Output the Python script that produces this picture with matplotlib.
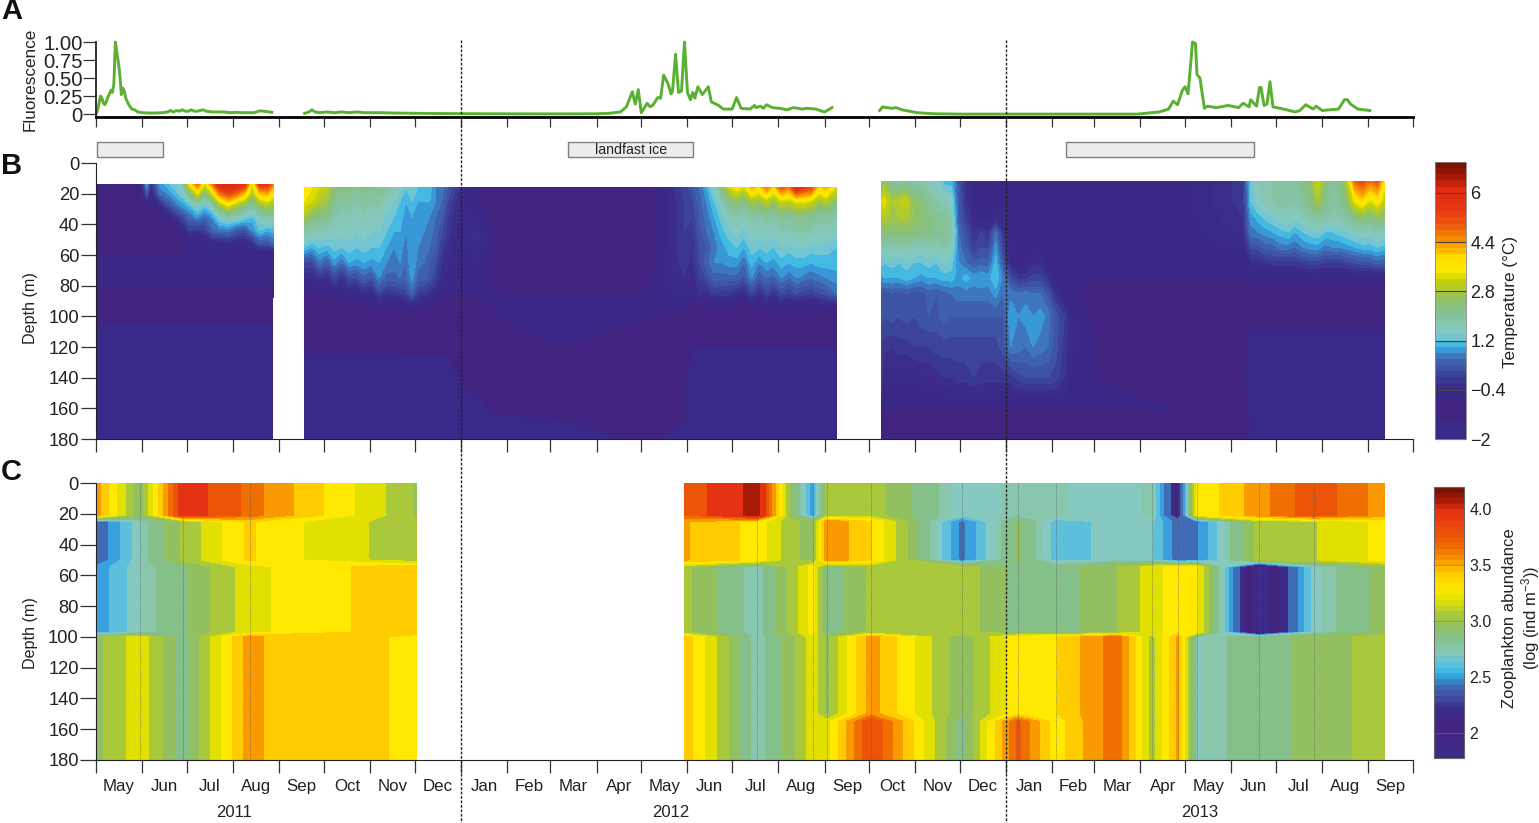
import numpy as np
import pandas as pd
import matplotlib
matplotlib.use("Agg")
import matplotlib.pyplot as plt
from matplotlib.cm import ScalarMappable
from matplotlib.colors import LinearSegmentedColormap, BoundaryNorm, ListedColormap, Normalize

plt.rcParams['font.family'] = ['Liberation Sans', 'DejaVu Sans']
plt.rcParams['mathtext.default'] = 'regular'

# ---- calendar
START = pd.Timestamp('2011-05-01')
month_starts = pd.date_range('2011-05-01', '2013-10-01', freq='MS')
month_days = np.array([(d - START).days for d in month_starts])
month_labels = [d.strftime('%b') for d in month_starts[:-1]]
year_labels = ['2011', '2012', '2013']
year_days = [92.6, 386, 741]
winter_lines = [245, 611]

# ---- panel A: fluorescence (day since 1 May 2011, value)
fl1_d = [0,1,2,3,4,5,6,7,8,9,10,11,12,13,14,15,16,17,18,19,20,22,24,26,28,31,35,40,45,48,50,52,54,56,58,60,62,64,66,68,70,72,74,78,82,86,90,94,98,102,106,110,113,116,118]
fl1_v = [0,.05,.15,.25,.22,.15,.13,.18,.24,.28,.33,.3,.42,1.0,.85,.72,.55,.27,.36,.32,.22,.13,.07,.06,.03,.02,.015,.015,.02,.03,.05,.03,.05,.04,.06,.04,.04,.06,.04,.04,.05,.06,.04,.03,.03,.03,.02,.025,.02,.02,.02,.045,.04,.03,.025]
fl2_d = [140,143,145,147,150,155,160,165,170,175,180,190,200,220,250,300,336,345,352,356,360,362,364,366,370,372,374,377,379,381,384,386,387,389,391,393,395,397,399,400.6,402,404,407,411,413,418,421,427,430,433,439,442,443,446,448,450,454,459,464,468,474,477,483,489,494]
fl2_v = [.01,.03,.06,.03,.02,.03,.02,.03,.02,.03,.02,.02,.015,.01,.005,.003,.004,.012,.03,.1,.31,.14,.34,.02,.15,.1,.13,.23,.22,.54,.42,.28,.32,.83,.3,.32,1.0,.3,.2,.3,.22,.38,.27,.38,.17,.12,.07,.07,.23,.08,.07,.12,.09,.11,.08,.13,.09,.08,.06,.09,.07,.08,.07,.03,.09]
fl3_d = [526,528,531,534,537,541,551,562,580,620,660,699,713.6,720,723,726,729,731,733,735,736,738,739,741,744,746,752,760,767,770,774,775,779,781,782,784,786,788,790,795,805,808,812,817,819,823,834,838,840,842,847,855]
fl3_v = [.05,.1,.09,.08,.09,.06,.02,.005,0,0,0,0,.03,.07,.18,.13,.32,.38,.28,.75,1.0,.98,.55,.5,.08,.11,.09,.12,.09,.15,.1,.2,.11,.37,.37,.12,.14,.45,.1,.08,.03,.05,.13,.07,.11,.05,.07,.2,.2,.14,.07,.05]
ice_start = [0.7, 317, 651]
ice_end = [45, 401, 777]
ice_labels = ['', 'landfast ice', '']

# ---- panel B: temperature, segment 2011
t1_days = [0,16,30,34,37,43,50,57,63,68,73,78,83,89,94,100,105,110,115,119]
t1_depth = [14,20,28,36,44,52,60,80,100,120,140,160,180]
t1_14 = [-.9,-.9,-.8,1.0,-.3,.9,1.2,1.5,3.5,4.8,3.2,4.5,6.0,6.2,6.0,5.5,3.2,5.5,5.5,4.5]
t1_20 = [-1,-1,-.9,.3,-.5,.6,.9,1.3,2.2,3.3,2.2,3.2,4.6,5.2,4.8,4.0,2.8,4.0,4.2,3.6]
t1_28 = [-1,-1,-1,-.8,-.8,-.4,.3,.8,1.1,1.5,1.2,1.6,2.6,3.3,2.7,2.3,1.9,2.5,2.8,2.6]
t1_36 = [-1,-1,-1,-1,-1,-.9,-.6,0,.5,.8,.5,.8,1.4,1.6,1.5,1.3,1.1,1.5,1.8,1.7]
t1_44 = [-1,-1,-1,-1,-1,-1,-.9,-.8,0,-.2,0,.5,.7,.7,.4,.3,.8,1.2,1.0,1.1]
t1_52 = [-.9,-.9,-.9,-.9,-.9,-.9,-.9,-.9,-.7,-.7,-.7,-.5,-.4,-.3,-.5,-.5,-.2,.4,.3,.6]
t1_60 = [-.8]*20
t1_80 = [-.8]*20
t1_100 = [-1.3]*20
t1_120 = [-1.7]*20
t1_140 = [-1.8]*20
t1_160 = [-1.8]*20
t1_180 = [-1.8]*20

# ---- panel B: temperature, segment 2011-12
t2_days = [140,145,150,155,160,165,170,175,180,185,190,195,200,204,208,212,216,220,224,228,232,236,245,256,270,310,370,395,
           400,405,410,415,420,425,430,435,440,445,450,455,460,465,470,475,480,485,490,497]
t2_depth = [16,25,35,45,55,65,75,85,100,120,140,160,180]
t2_16 = [3.6,3.4,3.2,3.0,2.4,2.2,2.4,2.0,2.3,2.0,2.2,1.9,1.7, 1.5,1.2,1.4,1.2,1.0,1.1,.8,.7,.4, -.2,-1,-1,-1,-1,.1,
         .3,.6,1.0,1.5,2.2,3.2,3.6,3.2,4.2,3.8,4.6,3.8,5,4.5,6,5.4,5.2,3.8,4.2,3.2]
t2_25 = [3.4,3.2,2.9,2.7,2.1,1.9,2.0,1.8,2.0,1.8,1.9,1.6,1.4, 1.2,1.0,1.2,1.0,1.0,1.0,.8,.6,.2, -.5,-.8,-1,-1,-1,0,
         .1,.5,.8,1.2,1.6,2.2,2.5,2.2,2.8,2.6,3.0,2.6,3.2,3.0,3.4,3.4,3.2,2.7,2.9,2.4]
t2_35 = [2.8,2.4,2.2,2.2,1.8,1.7,1.7,1.6,1.7,1.6,1.6,1.3,1.2, 1.1,.9,1.0,.9,.9,.8,.6,.4,0, -.6,-.6,-1,-1,-1,0,
         0,.4,.7,1.0,1.3,1.6,1.8,1.6,1.9,1.8,2.0,1.8,2.1,2.0,2.2,2.2,2.1,1.9,2.0,1.8]
t2_45 = [1.8,1.7,1.6,1.6,1.5,1.5,1.5,1.4,1.5,1.4,1.4,1.2,1.0, 1.0,.8,1.0,.9,.8,.7,.5,.2,-.1, -.6,-.3,-1,-1,-1,0,
         -.1,.3,.6,.8,1.1,1.3,1.5,1.3,1.6,1.5,1.6,1.5,1.7,1.6,1.8,1.8,1.7,1.6,1.6,1.5]
t2_55 = [1.2,1.0,1.2,1.1,1.3,1.2,1.3,1.2,1.3,1.2,1.2,1.0,.8, .9,.7,1.0,.8,.7,.6,.4,0,-.3, -.7,-.3,-1,-1,-1,0,
         -.2,.2,.4,.7,.9,1.1,1.2,1.0,1.3,1.2,1.3,1.2,1.4,1.3,1.4,1.4,1.3,1.3,1.3,1.2]
t2_65 = [.2,.1,.7,.4,.9,.6,1.0,.9,1.0,.9,1.0,.8,.7, .8,.6,1.0,.7,.6,.4,.2,-.2,-.4, -.8,-.5,-1,-1,-1,-.1,
         -.3,.2,.5,.8,.8,.9,.9,.6,1.1,.8,1.0,.9,1.1,1.0,1.1,1.1,1.0,1.1,1.1,1.1]
t2_75 = [-.4,-.4,-.2,-.3,.1,-.2,.2,.2,.5,.3,.8,.5,.5, .6,.5,.9,.5,.5,.3,0,-.3,-.5, -.8,-.7,-.9,-.9,-.9,-.2,
         -.5,0,.2,.5,.5,.5,.5,.3,.8,.4,.6,.5,.8,.6,.8,.7,.6,.7,.8,.9]
t2_85 = [-1,-.9,-.8,-.8,-.6,-.7,-.5,-.5,-.3,-.4,.1,-.2,-.1, 0,.1,.5,0,-.1,-.2,-.4,-.6,-.7, -.8,-.8,-.8,-.8,-.8,-.4,
         -.6,-.2,-.3,0,-.1,-.1,-.2,-.4,.1,-.3,.1,-.2,.2,0,.2,.1,0,.2,.3,.6]
t2_100 = [-1.3]*22 + [-1.2,-1.0,-.8,-.8,-.8,-.9] + [-1.3]*20
t2_120 = [-1.3]*22 + [-1.3,-1.3,-.9,-.8,-.9,-1.2] + [-1.4]*20
t2_140 = [-1.8]*13 + [-1.7]*9 + [-1.3,-1.3,-1.2,-.9,-.9,-1.3] + [-1.8]*20
t2_160 = [-1.8]*22 + [-1.7,-1.5,-1.3,-1.3,-1.1,-1.3] + [-1.8]*20
t2_180 = [-1.8]*22 + [-1.8,-1.8,-1.8,-1.6,-1.3,-1.6] + [-1.9]*20

# ---- panel B: temperature, segment 2012-13
t3_days = [527,529,534,539,544,549,554,559,564,569,574,579,584,589,594,599,604,609,614,619,624,629,634,639,644,650,656,670,720,770,
           775,780,785,790,795,800,805,810,815,820,825,830,835,840,845,850,855,860,865]
t3_depth = [12,25,35,45,55,65,75,85,100,120,140,160,180]
t3_12 = [2.0,2.6,2.0,1.8,2.0,1.7,1.9,1.6,1.5,1.1,1.1,.3,-.3,-.6,-.7,-.7,-.8,-.8,-.8,-.8,-.8,-.8,-.8,-.8,-.8,-.8,-.8,-.8,-.8,-.1,
         1.3,1.6,1.7,1.8,2.0,2.0,1.9,2.1,2.4,3.2,2.4,2.0,2.2,2.9,4.8,5.2,4.6,5.0,3.6]
t3_25 = [3.2,3.4,2.8,3.0,3.1,2.5,2.3,2.0,1.8,1.7,1.5,.4,-.2,-.6,-.7,-.7,-.7,-.7,-.7,-.8,-.8,-.8,-.8,-.8,-.8,-.8,-.8,-.8,-.8,-.1,
         1.2,1.5,1.7,1.8,1.9,1.9,1.8,2.0,2.3,2.8,2.2,1.9,2.0,2.5,3.4,3.8,3.2,3.6,3.0]
t3_35 = [2.7,3.0,2.7,2.8,2.9,2.6,2.4,2.3,2.1,2.0,1.7,.4,0,-.4,-.6,-.5,-.5,-.3,-.6,-.8,-.8,-.8,-.8,-.8,-.8,-.8,-.8,-.8,-.8,-.2,
         .9,1.1,1.3,1.4,1.6,1.6,1.5,1.7,1.9,2.0,1.9,1.7,1.8,2.0,2.3,2.5,2.3,2.6,2.4]
t3_45 = [2.2,2.4,2.4,2.4,2.4,2.3,2.3,2.2,2.1,2.1,1.9,.6,.2,-.2,0,-.2,.6,-.2,-.6,-.8,-.8,-.8,-.8,-.8,-.8,-.8,-.8,-.8,-.8,-.3,
         .7,.8,.9,1.0,1.1,1.2,1.0,1.2,1.3,1.4,1.2,1.2,1.3,1.4,1.5,1.6,1.5,1.7,1.6]
t3_55 = [1.6,1.7,1.7,1.7,1.8,1.7,1.6,1.7,1.6,1.8,1.6,.7,.4,0,.2,.1,.9,0,-.5,-.7,-.7,-.6,-.7,-.8,-.8,-.8,-.8,-.8,-.8,-.5,
         .2,.3,.5,.5,.7,.7,.6,.8,.9,.9,.7,.8,.8,.9,1.0,1.1,1.1,1.2,1.1]
t3_65 = [1.3,1.2,1.3,1.2,1.3,1.2,1.2,1.3,1.2,1.4,1.3,.8,.6,.4,.5,.5,1.1,.3,-.4,-.6,-.6,-.3,-.3,-.7,-.8,-.8,-.8,-.8,-.8,-.7,
         -.3,-.3,-.2,-.1,-.1,-.1,-.1,0,.1,.1,0,0,0,.1,.2,.3,.3,.5,.4]
t3_75 = [.9,1.0,1.0,1.0,1.1,1.0,.9,1.0,1.0,1.1,1.1,.9,1.1,.9,1.0,.9,1.2,.7,.2,-.1,-.1,.1,.1,-.2,-.6,-.7,-.8,-.8,-.8,-.8] + [-.7]*19
t3_85 = [.4,.3,.4,.3,.4,.3,.3,.5,.4,.5,.6,.7,.7,.7,.7,.7,.9,.6,.7,.6,.7,.6,.6,.3,-.2,-.6,-.8,-.9,-.9,-.9] + [-1.0]*19
t3_100 = [.3,.2,.3,.2,.3,.2,.3,.4,.3,.5,.4,.4,.4,.4,.4,.4,.4,.4,1.0,.8,.9,.8,.9,.7,.3,0,-.5,-.9,-1.2,-1.2] + [-1.2]*19
t3_120 = [0,-.1,-.2,-.1,-.1,0,0,0,.1,.1,.1,.1,.1,.1,.1,.1,.1,.3,.8,.7,.6,.8,.7,.6,.3,-.1,-.5,-.8,-1.2,-1.2] + [-1.7]*19
t3_140 = [.1,-.5,-.5,-.5,-.5,-.5,-.4,-.4,-.3,-.2,-.2,-.1,-.1,0,-.1,-.1,-.1,-.1,-.1,.1,.2,.2,.2,.2,.1,-.2,-.7,-.8,-.9,-1.2] + [-1.8]*19
t3_160 = [-.4] + [-.8]*29 + [-1.8]*19
t3_180 = [-1.2] + [-1.3]*29 + [-1.4]*19

# ---- panel C: zooplankton, layer values at sampling columns
z_nodes = [0,21,25,50,54.5,97,100,150,155,180]
z1_days = [0,29.5,58.4,103.4,113.4,194,214.8]
z1_l1 = [3.55,2.92,3.95,3.68,3.6,3.13,3.0]
z1_l2 = [2.38,2.72,3.03,3.40,3.32,3.10,3.05]
z1_l3 = [2.5,2.72,2.88,3.2,3.24,3.42,3.45]
z1_l4 = [2.97,3.2,2.83,3.56,3.48,3.38,3.3]
z1_l5 = [2.97,3.2,2.83,3.56,3.48,3.38,3.3]
z2_days = [395.3,443.6,465.8,481.2,490.6,520.1,581.2,618.8,644.3,668.5,685.9,708.7,726.2,738.9,780.5,817.4,865.1]
z2_l1 = [3.72,4.14,2.98,2.5,3.05,3.07,2.68,2.75,2.75,2.68,2.68,2.75,2.15,3.26,3.56,3.80,3.55]
z2_l2 = [3.5,3.33,3.05,2.95,3.6,3.38,2.45,2.92,2.62,2.66,2.72,2.67,2.42,2.46,3.05,3.12,3.29]
z2_l3 = [3.04,2.72,3.03,3.3,2.82,3.03,3.08,2.86,2.86,2.92,3.01,3.19,3.32,3.27,1.9,2.70,2.95]
z2_l4 = [3.45,2.72,2.95,3.2,2.98,3.55,2.92,3.33,3.36,3.55,3.68,3.07,3.52,2.72,2.84,2.94,3.07]
z2_l5 = [3.45,2.72,2.95,3.2,3.2,3.85,2.82,3.75,3.3,3.55,3.68,3.07,3.52,2.72,2.84,2.94,3.07]
z_samples = [29.5,58.4,103.4,443.6,481.2,490.6,520.1,581.2,618.8,644.3,708.7,726.2,738.9,780.5,817.4]

t_ticks = [-2,-0.4,1.2,2.8,4.4,6]
t_ticklabels = ['\u22122','\u22120.4','1.2','2.8','4.4','6']
z_ticks = [2,2.5,3.0,3.5,4.0]
z_ticklabels = ['2','2.5','3.0','3.5','4.0']

# ---- colour scales
t_anchor_v = [-2,-1.6,-1.4,-1.0,-0.8,-0.4,-0.1,0.2,0.6,0.85,1.0,1.2,1.5,2.2,2.6,2.8,3.2,3.5,3.9,4.2,4.5,5.0,5.6,6.2,6.5,7]
t_anchor_c = ['#38298a','#392989','#41247f','#41247f','#3a2786','#3b2a88','#3b3a93','#3e4fa0','#3f6cb5','#3a95d5','#2fb4e6','#6cc4d6','#85c9c0','#85c08a','#92c060','#a9c83c','#c8d200','#ffe900','#ffe000','#ffb000','#f89000','#ec5a10','#e53212','#e02d10','#b01a08','#7a1204']
t_levels = np.arange(-2, 7.01, 0.2)
t_cmap = LinearSegmentedColormap.from_list('temp', [((v+2)/9, c) for v, c in zip(t_anchor_v, t_anchor_c)], N=len(t_levels)-1)

z_levels = [1.78,2.05,2.24,2.33,2.48,2.57,2.66,2.73,2.78,2.9,3.01,3.13,3.25,3.37,3.49,3.61,3.72,3.85,4.06,4.15,4.2]
z_colors = ['#3b2a88','#43247f','#3b2a88','#3f6cb5','#3aa0df','#5cc0dc','#85c9c0','#88c7ab','#85c08a','#92c060','#a9c83c','#e2e000','#ffe900','#ffcc00','#f99a00','#ef7000','#ec5508','#e53212','#a81a08','#7a1204']
z_cmap = ListedColormap(z_colors)
z_norm = BoundaryNorm(z_levels, z_cmap.N)
z_bar_v = [1.78,2.0,2.2,2.3,2.42,2.52,2.6,2.7,2.85,2.95,3.07,3.19,3.3,3.43,3.55,3.66,3.78,4.0,4.1,4.2]
z_bar_c = ['#3b2a88','#43247f','#3b2a88','#3e4a9e','#3f6cb5','#2fb4e6','#5cc0dc','#85c9c0','#85c08a','#92c060','#a9c83c','#e2e000','#ffe900','#ffcc00','#f99a00','#ef7000','#ec5508','#e53212','#a81a08','#7a1204']
z_bar_cmap = LinearSegmentedColormap.from_list('zbar', [((v-1.78)/2.42, c) for v, c in zip(z_bar_v, z_bar_c)], N=48)

# ---- layout
W, H = 1539, 823
fig = plt.figure(figsize=(W/100, H/100), dpi=100)
def axpx(x0, y0, x1, y1):
    return fig.add_axes([x0/W, 1-y1/H, (x1-x0)/W, (y1-y0)/H])

XLIM = (0, 884)
axA = axpx(96, 42, 1413, 117)
axB = axpx(96, 163, 1413, 439)
axC = axpx(96, 483, 1413, 760)
DK = '#333333'

for ax in (axA, axB, axC):
    ax.set_xlim(*XLIM)
    for s in ('top', 'right'):
        ax.spines[s].set_visible(False)
    ax.spines['left'].set_color('#222222')
    ax.spines['bottom'].set_color('#222222')
    ax.set_xticks(month_days)
    ax.set_xticklabels([])
    ax.tick_params(axis='x', length=9.2, width=0.9, color=DK)
    ax.tick_params(axis='y', length=11.5, width=0.9, color=DK, labelsize=13.2, labelcolor='#222222', pad=1)

# Panel A
axA.set_ylim(-0.04, 1.0)
for d, v in ((fl1_d, fl1_v), (fl2_d, fl2_v), (fl3_d, fl3_v)):
    axA.plot(d, v, color='#5ab031', lw=2.1, clip_on=False, solid_joinstyle='round')
axA.set_yticks([0, .25, .5, .75, 1.0])
axA.set_yticklabels(['0', '0.25', '0.50', '0.75', '1.00'], fontsize=14.6)
axA.spines['bottom'].set_linewidth(2.0)
axA.spines['bottom'].set_color('black')
axA.spines['left'].set_linewidth(1.3)
axA.tick_params(axis='x', length=7.2)
axA.tick_params(axis='y', length=9.2, pad=0.5)
fig.text(30/W, 1-79/H, 'Fluorescence', rotation=90, ha='center', va='center', fontsize=12.3, color='#222222')

# Panel B
t1 = np.array([t1_14,t1_20,t1_28,t1_36,t1_44,t1_52,t1_60,t1_80,t1_100,t1_120,t1_140,t1_160,t1_180])
t2 = np.array([t2_16,t2_25,t2_35,t2_45,t2_55,t2_65,t2_75,t2_85,t2_100,t2_120,t2_140,t2_160,t2_180])
t3 = np.array([t3_12,t3_25,t3_35,t3_45,t3_55,t3_65,t3_75,t3_85,t3_100,t3_120,t3_140,t3_160,t3_180])
for d, dep, z in ((t1_days,t1_depth,t1),(t2_days,t2_depth,t2),(t3_days,t3_depth,t3)):
    cfT = axB.contourf(d, dep, z, levels=t_levels, cmap=t_cmap, vmin=-2, vmax=7)
axB.set_ylim(180, 0)
axB.set_yticks(range(0, 181, 20))
axB.tick_params(axis='y', length=10.5, pad=1.5)
fig.text(30/W, 1-308/H, 'Depth (m)', rotation=90, ha='center', va='center', fontsize=11.6, color='#222222')
for s, e, l in zip(ice_start, ice_end, ice_labels):
    axB.barh(-8.8, e-s, left=s, height=10, color='#ececec', edgecolor='#808080', lw=1.0, clip_on=False)
    if l:
        axB.text((s+e)/2, -8.2, l, ha='center', va='center', fontsize=10.2, color='#222222')

# Panel C
zz1 = np.array([z1_l1,z1_l1,z1_l2,z1_l2,z1_l3,z1_l3,z1_l4,z1_l4,z1_l5,z1_l5])
zz2 = np.array([z2_l1,z2_l1,z2_l2,z2_l2,z2_l3,z2_l3,z2_l4,z2_l4,z2_l5,z2_l5])
for d, z in ((z1_days, zz1), (z2_days, zz2)):
    axC.contourf(d, z_nodes, z, levels=z_levels, cmap=z_cmap, norm=z_norm)
axC.vlines(z_samples, 0, 180, color='#555555', lw=0.6, linestyles=(0, (1, 1.2)), alpha=0.75, zorder=3)
axC.set_ylim(180, 0)
axC.set_yticks(range(0, 181, 20))
fig.text(30/W, 1-633/H, 'Depth (m)', rotation=90, ha='center', va='center', fontsize=11.6, color='#222222')
mids = (month_days[:-1] + month_days[1:]) / 2
axC.set_xticks(mids, labels=month_labels, minor=True)
axC.tick_params(axis='x', which='minor', length=0, labelsize=12.2, labelcolor='#222222', pad=13.5)
for d, l in zip(year_days, year_labels):
    axC.text(d, -0.188, l, transform=axC.get_xaxis_transform(), ha='center', va='center',
             fontsize=12, color='#222222')

# Overlay dashed lines
ov = fig.add_axes([96/W, 0, (1413-96)/W, 1], facecolor='none')
ov.set_xlim(*XLIM)
ov.set_ylim(H, 0)
ov.axis('off')
ov.vlines(winter_lines, 40, H, color='#222222', lw=1.0, linestyles=(0, (2, 1.2)))

# Colour bars
caxT = axpx(1435, 162, 1466, 439)
cb = fig.colorbar(cfT, cax=caxT)
cb.set_ticks(t_ticks, labels=t_ticklabels)
caxT.tick_params(direction='in', length=22.5, width=0.8, color='#444444', labelsize=13, labelcolor='#222222', pad=3)
cb.outline.set_edgecolor('#888888')
cb.outline.set_linewidth(0.6)
fig.text(1511/W, 1-302/H, 'Temperature (\u00b0C)', rotation=90, ha='center', va='center', fontsize=12.3, color='#222222')

caxZ = axpx(1434, 487, 1464, 758)
cb2 = fig.colorbar(ScalarMappable(norm=Normalize(1.78, 4.2), cmap=z_bar_cmap), cax=caxZ)
cb2.set_ticks(z_ticks, labels=z_ticklabels)
cb2.minorticks_off()
caxZ.tick_params(direction='in', length=22, width=0.7, color='#77777780', labelsize=11.5, labelcolor='#222222', pad=4)
cb2.outline.set_edgecolor('#666666')
cb2.outline.set_linewidth(0.8)
fig.text(1522/W, 1-618/H, 'Zooplankton abundance\n(log (ind m$^{-3}$))', rotation=90, ha='center', va='center',
         fontsize=12, color='#222222', linespacing=1.1, multialignment='center')

# Panel letters
for lab, y in (('A', 11), ('B', 166), ('C', 472)):
    fig.text(1/W, 1-y/H, lab, fontsize=21, fontweight='bold', ha='left', va='center', color='#111111')

fig.savefig('out.png', dpi=100)
